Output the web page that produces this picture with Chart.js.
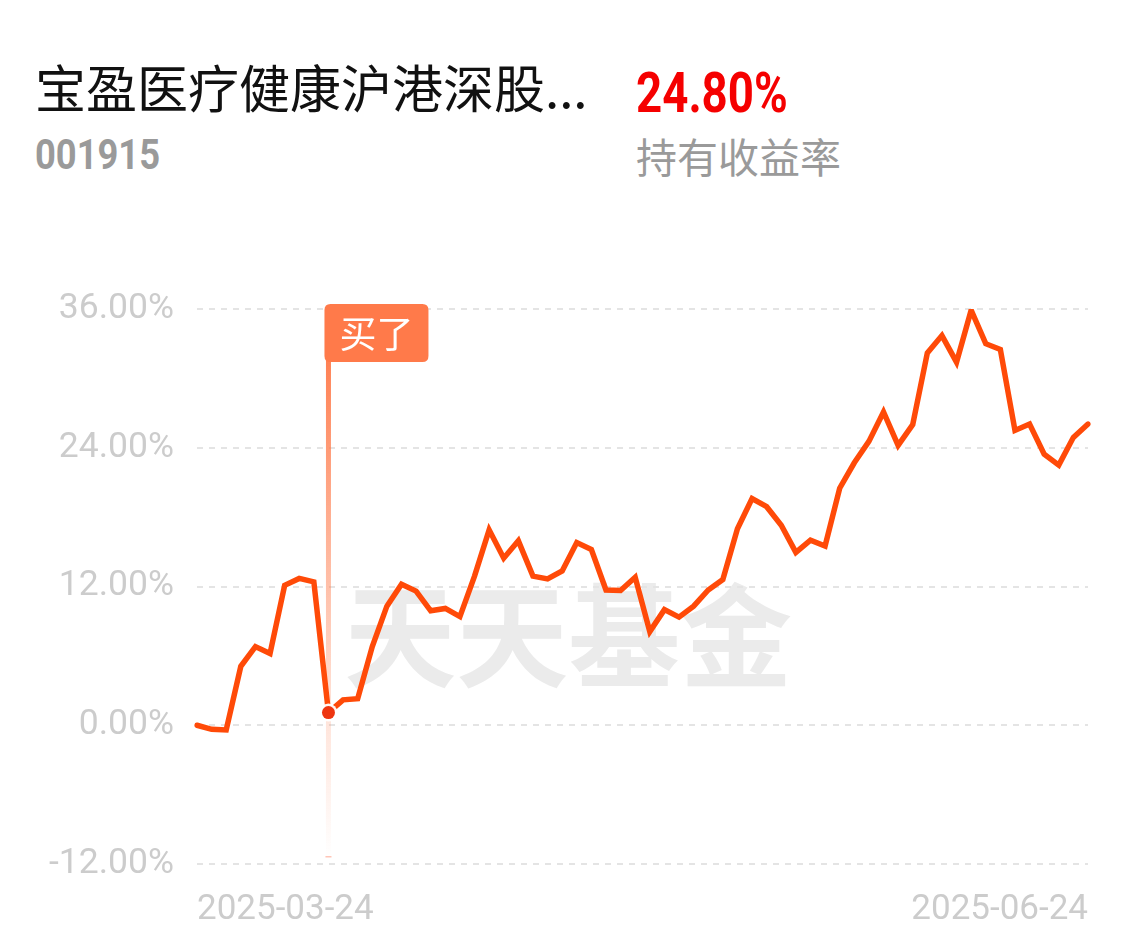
<!DOCTYPE html>
<html>
<head>
<meta charset="utf-8">
<script src="https://cdn.jsdelivr.net/npm/chart.js@4.4.1/dist/chart.umd.min.js"></script>
<style>
  html, body { margin: 0; padding: 0; background: #ffffff; }
  body { width: 1138px; height: 949px; position: relative; overflow: hidden; }
  .t { position: absolute; white-space: nowrap; }
  #title { left: 35px; top: 61px; font: 400 51px/51px "Noto Sans CJK SC", sans-serif; color: #111111; }
  #code { left: 35px; top: 134px; font: 700 42px/42px Roboto, sans-serif; color: #9a9a9a; transform: scaleX(0.865); transform-origin: left top; }
  #pct { left: 636px; top: 66px; font: 700 55px/55px Roboto, sans-serif; color: #f50000; transform: scaleX(0.83); transform-origin: left top; }
  #pctLabel { left: 636px; top: 135px; font: 400 41px/41px "Noto Sans CJK SC", sans-serif; color: #9a9a9a; }
  #wrap { position: absolute; left: 0; top: 0; width: 1138px; height: 949px; }
</style>
</head>
<body>
<div class="t" id="title">宝盈医疗健康沪港深股...</div>
<div class="t" id="code">001915</div>
<div class="t" id="pct">24.80%</div>
<div class="t" id="pctLabel">持有收益率</div>
<div id="wrap"><canvas id="c" width="1138" height="949"></canvas></div>
<script>
// ---- data ----
const dates = [
  '2025-03-24','2025-03-25','2025-03-26','2025-03-27','2025-03-28','2025-03-31',
  '2025-04-01','2025-04-02','2025-04-03','2025-04-07','2025-04-08','2025-04-09','2025-04-10','2025-04-11',
  '2025-04-14','2025-04-15','2025-04-16','2025-04-17','2025-04-18','2025-04-21','2025-04-22','2025-04-23',
  '2025-04-24','2025-04-25','2025-04-28','2025-04-29','2025-04-30',
  '2025-05-06','2025-05-07','2025-05-08','2025-05-09','2025-05-12','2025-05-13','2025-05-14','2025-05-15',
  '2025-05-16','2025-05-19','2025-05-20','2025-05-21','2025-05-22','2025-05-23','2025-05-26','2025-05-27',
  '2025-05-28','2025-05-29','2025-05-30',
  '2025-06-03','2025-06-04','2025-06-05','2025-06-06','2025-06-09','2025-06-10','2025-06-11','2025-06-12',
  '2025-06-13','2025-06-16','2025-06-17','2025-06-18','2025-06-19','2025-06-20','2025-06-23','2025-06-24'
];
const returns = [
  0.0, -0.35, -0.4, 5.1, 6.8, 6.2, 12.1, 12.7, 12.4, 1.1,
  2.2, 2.3, 6.8, 10.3, 12.2, 11.6, 9.9, 10.1, 9.4, 12.9,
  16.9, 14.45, 15.95, 12.9, 12.66, 13.35, 15.8, 15.2, 11.7, 11.65,
  12.8, 8.1, 10.0, 9.35, 10.3, 11.7, 12.6, 17.0, 19.6, 18.9,
  17.3, 14.95, 16.0, 15.5, 20.5, 22.7, 24.55, 27.1, 24.2, 26.0,
  32.2, 33.7, 31.4, 35.9, 33.0, 32.5, 25.5, 26.05, 23.45, 22.5,
  24.9, 26.05
];
const yTicks = [-12, 0, 12, 24, 36];
const buyIndex = 9;
const buyText = '买了';
const watermarkText = '天天基金';

// ---- plugins ----
const watermarkPlugin = {
  id: 'watermark',
  beforeDraw(chart) {
    const ctx = chart.ctx, a = chart.chartArea;
    ctx.save();
    ctx.font = '700 112px "Noto Sans CJK SC", sans-serif';
    ctx.fillStyle = '#ebebeb';
    ctx.textAlign = 'center';
    ctx.textBaseline = 'middle';
    ctx.fillText(watermarkText, a.left + (a.right - a.left) * 0.4166, a.top + (a.bottom - a.top) * 0.59);
    ctx.restore();
  }
};

function roundRect(ctx, x, y, w, h, r) {
  ctx.beginPath();
  ctx.moveTo(x + r, y);
  ctx.lineTo(x + w - r, y);
  ctx.quadraticCurveTo(x + w, y, x + w, y + r);
  ctx.lineTo(x + w, y + h - r);
  ctx.quadraticCurveTo(x + w, y + h, x + w - r, y + h);
  ctx.lineTo(x + r, y + h);
  ctx.quadraticCurveTo(x, y + h, x, y + h - r);
  ctx.lineTo(x, y + r);
  ctx.quadraticCurveTo(x, y, x + r, y);
  ctx.closePath();
}

const buyPlugin = {
  id: 'buyMarker',
  beforeDatasetsDraw(chart) {
    const ctx = chart.ctx, a = chart.chartArea;
    const x = chart.scales.x.getPixelForValue(buyIndex);
    const top = a.top + 50, bottom = a.bottom - 6;
    ctx.save();
    const g = ctx.createLinearGradient(0, top, 0, bottom);
    g.addColorStop(0, 'rgba(255,122,74,0.95)');
    g.addColorStop(0.7, 'rgba(255,122,74,0.22)');
    g.addColorStop(1, 'rgba(255,122,74,0.0)');
    ctx.fillStyle = g;
    ctx.fillRect(x - 2.5, top, 5, bottom - top);
    ctx.fillStyle = 'rgba(255,90,50,0.35)';
    ctx.fillRect(x - 3, bottom - 2, 6, 1.5);
    ctx.restore();
  },
  afterDatasetsDraw(chart) {
    const ctx = chart.ctx, a = chart.chartArea;
    const x = chart.scales.x.getPixelForValue(buyIndex);
    const y = chart.scales.y.getPixelForValue(returns[buyIndex]);
    ctx.save();
    // flag
    const bx = x - 4, by = a.top - 5, bw = 104, bh = 58;
    roundRect(ctx, bx, by, bw, bh, 6);
    ctx.fillStyle = '#ff7a4a';
    ctx.fill();
    ctx.fillStyle = '#ffffff';
    ctx.font = '400 37px "Noto Sans CJK SC", sans-serif';
    ctx.textAlign = 'center';
    ctx.textBaseline = 'middle';
    ctx.fillText(buyText, bx + bw / 2, by + bh / 2 + 1);
    // point
    ctx.beginPath();
    ctx.arc(x, y, 9, 0, Math.PI * 2);
    ctx.fillStyle = 'rgba(255,255,255,0.95)';
    ctx.fill();
    ctx.beginPath();
    ctx.arc(x, y, 6.5, 0, Math.PI * 2);
    ctx.fillStyle = '#ee3510';
    ctx.fill();
    ctx.restore();
  }
};

const lastIndex = dates.length - 1;

new Chart(document.getElementById('c'), {
  type: 'line',
  data: {
    labels: dates,
    datasets: [{
      data: returns,
      borderColor: '#ff4a08',
      borderWidth: 5.5,
      pointRadius: 0,
      pointHoverRadius: 0,
      tension: 0,
      fill: false,
      borderCapStyle: 'round',
      borderJoinStyle: 'miter'
    }]
  },
  options: {
    responsive: false,
    animation: false,
    devicePixelRatio: 1,
    events: [],
    layout: { padding: { top: 309, right: 50, left: 0, bottom: 0 } },
    plugins: { legend: { display: false }, tooltip: { enabled: false }, title: { display: false } },
    scales: {
      x: {
        type: 'category',
        offset: false,
        grid: { display: false, drawTicks: false },
        border: { display: false },
        afterFit(scale) { scale.height = 85; },
        ticks: {
          autoSkip: false,
          maxRotation: 0,
          minRotation: 0,
          align: 'inner',
          padding: 25,
          color: '#cccccc',
          font: { family: 'Roboto', size: 35 },
          callback(v, i) { return (i === 0 || i === lastIndex) ? dates[i] : ''; }
        }
      },
      y: {
        min: yTicks[0],
        max: yTicks[yTicks.length - 1],
        afterBuildTicks(scale) { scale.ticks = yTicks.map(v => ({ value: v })); },
        afterFit(scale) { scale.width = 197; },
        grid: { color: '#e4e4e4', lineWidth: 2, drawTicks: false },
        border: { display: false, dash: [6, 6] },
        ticks: {
          padding: 23,
          color: '#cccccc',
          font: { family: 'Roboto', size: 35.5 },
          callback(v) { return v.toFixed(2) + '%'; }
        }
      }
    }
  },
  plugins: [watermarkPlugin, buyPlugin]
});
</script>
</body>
</html>
